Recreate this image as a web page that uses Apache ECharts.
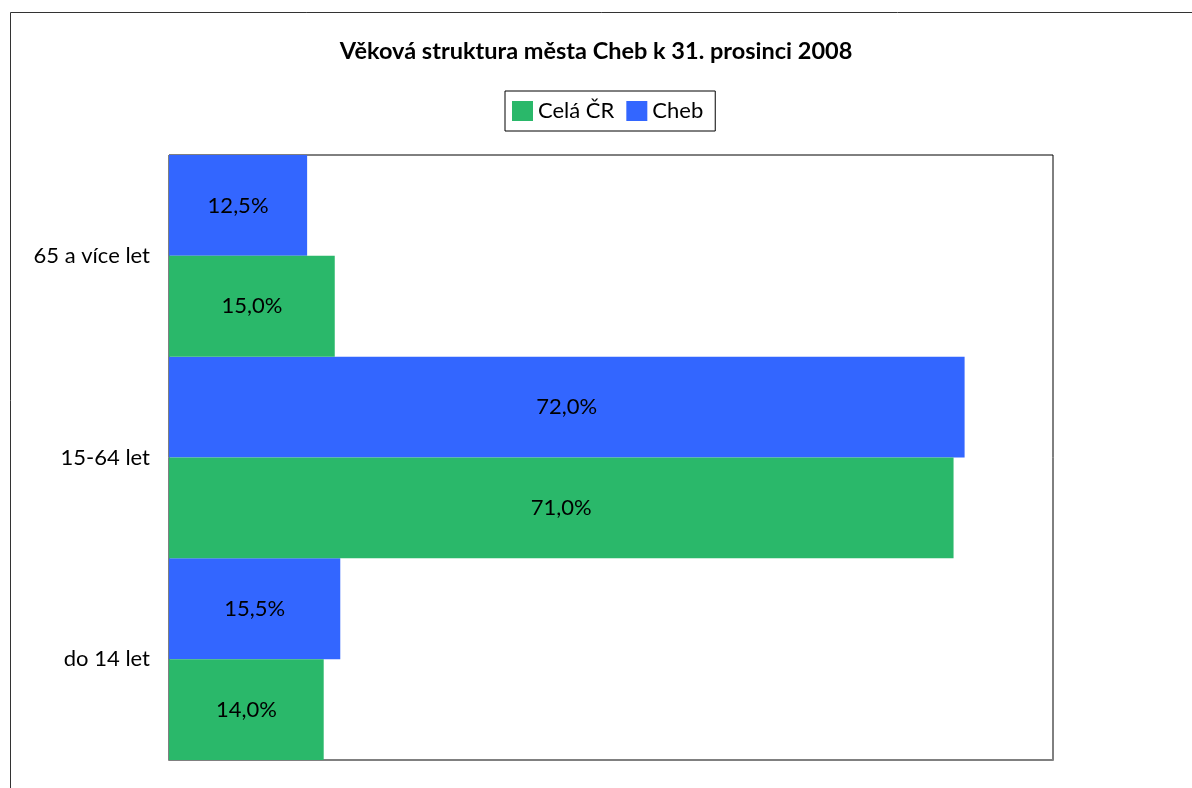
<!DOCTYPE html>
<html><head><meta charset="utf-8">
<script src="https://cdn.jsdelivr.net/npm/echarts@6/dist/echarts.min.js"></script>
<style>html,body{margin:0;padding:0;background:#fff}#c{width:1192px;height:788px}</style>
</head><body><div id="c"></div>
<script>
const categories = ['do 14 let', '15-64 let', '65 a více let'];
const seriesNames = ['Celá ČR', 'Cheb'];
const celaCR = [14.0, 71.0, 15.0];
const cheb = [15.5, 72.0, 12.5];
const titleText = 'Věková struktura města Cheb k 31. prosinci 2008';

const FONT = 'Lato, "Open Sans", sans-serif';
const fmt = p => p.value.toFixed(1).replace('.', ',') + '%';
const chart = echarts.init(document.getElementById('c'));
chart.setOption({
  animation: false,
  backgroundColor: '#fff',
  textStyle: { fontFamily: FONT },
  graphic: [{
    type: 'rect', left: 8, top: 10, shape: { width: 1200, height: 800 },
    style: { fill: 'none', stroke: '#333', lineWidth: 1 }, silent: true
  }],
  title: {
    text: titleText, left: 'center', top: 34,
    textStyle: { fontFamily: FONT, fontSize: 23.5, fontWeight: 'bold', color: '#000' }
  },
  legend: {
    data: seriesNames, left: 505, top: 91,
    borderColor: '#000', borderWidth: 1, padding: [9, 12, 9, 7],
    itemWidth: 21, itemHeight: 20, itemGap: 12, icon: 'rect',
    textStyle: { fontFamily: FONT, fontSize: 22, color: '#000' }
  },
  grid: { left: 169, top: 155, right: 139, bottom: 28, show: true, borderColor: '#000', borderWidth: 1, backgroundColor: '#fff' },
  xAxis: {
    type: 'value', min: 0, max: 80,
    axisLine: { show: true, lineStyle: { color: '#808080', width: 2 } },
    axisTick: { show: false }, axisLabel: { show: false }, splitLine: { show: false }
  },
  yAxis: {
    type: 'category', data: categories,
    axisLine: { show: false }, axisTick: { show: false },
    axisLabel: { fontFamily: FONT, fontSize: 22, color: '#000', margin: 19 }
  },
  series: [
    { name: 'Cheb', type: 'bar', data: cheb, barGap: '0%', barCategoryGap: '0%',
      itemStyle: { color: '#3366FF' },
      label: { show: true, position: 'inside', formatter: fmt, fontFamily: FONT, fontSize: 22, color: '#000' } },
    { name: 'Celá ČR', type: 'bar', data: celaCR, barGap: '0%', barCategoryGap: '0%',
      itemStyle: { color: '#2AB86A' },
      label: { show: true, position: 'inside', formatter: fmt, fontFamily: FONT, fontSize: 22, color: '#000' } }
  ]
});
</script></body></html>
